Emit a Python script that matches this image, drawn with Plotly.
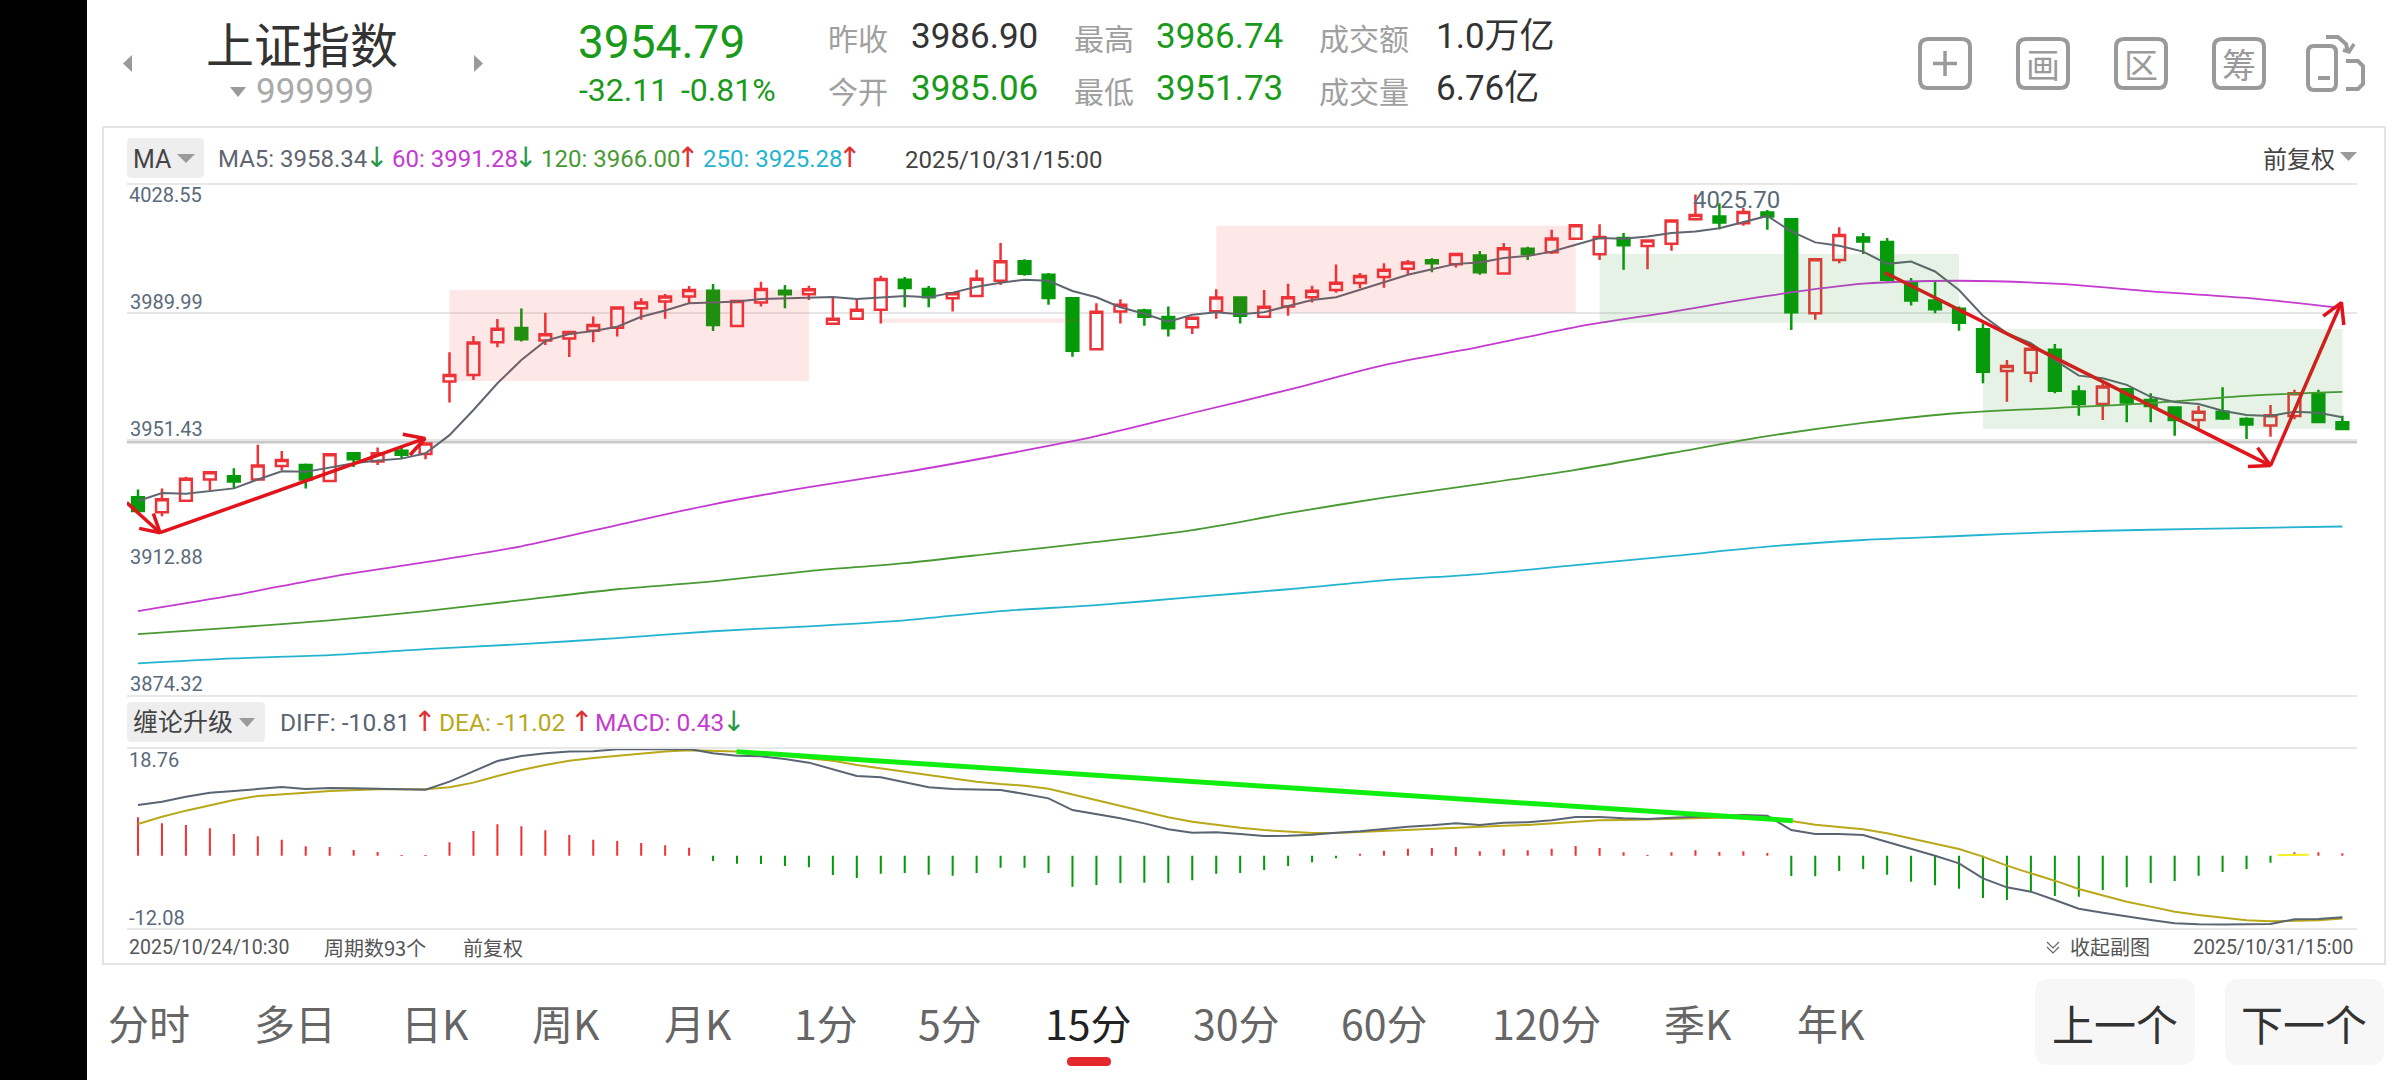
import plotly.graph_objects as go

W, H = 2400, 1080
bar_index = list(range(93))

open_ = [3934.1,3929.6,3933.1,3939.5,3940.5,3939.5,3943.6,3943.9,3939.0,3947.4,
3944.9,3948.2,3947.2,3969.1,3971.1,3981.0,3985.3,3981.5,3982.1,3984.5,
3985.4,3991.3,3993.3,3994.8,3996.6,3985.9,3993.0,3996.6,3995.5,3986.6,
3988.1,3990.8,3999.9,3997.1,3994.3,3995.0,3999.6,4005.5,4001.4,3994.3,
3978.9,3990.3,3990.6,3988.6,3985.5,3990.4,3994.5,3988.7,3991.8,3994.6,
3996.8,3998.9,4000.7,4003.2,4005.8,4004.6,4007.2,4001.8,4009.3,4008.2,
4012.3,4007.6,4012.5,4010.1,4010.8,4018.2,4019.0,4017.0,4020.2,4018.2,
3989.8,4005.9,4012.7,4011.3,3999.0,3993.6,3991.1,3984.9,3972.3,3971.8,
3978.7,3966.1,3962.3,3966.8,3963.5,3961.3,3957.5,3960.0,3957.8,3955.8,
3958.7,3965.4,3956.8]
close = [3930.0,3933.5,3939.7,3941.7,3938.9,3943.7,3945.4,3939.5,3947.1,3945.6,
3947.4,3947.0,3950.4,3971.1,3980.9,3985.1,3981.9,3983.4,3984.1,3986.2,
3991.5,3993.0,3994.8,3996.8,3986.2,3993.5,3997.1,3995.5,3997.0,3988.1,
3990.8,4000.1,3997.4,3994.6,3995.8,4000.2,4005.5,4001.7,3994.4,3978.4,
3990.2,3992.3,3988.7,3985.2,3988.4,3994.5,3989.0,3991.7,3994.6,3996.6,
3999.0,4001.0,4002.9,4005.1,4004.9,4007.7,4002.2,4009.4,4007.7,4012.4,
4016.4,4012.8,4010.3,4011.8,4017.8,4019.5,4017.2,4020.4,4019.0,3990.1,
4006.1,4013.4,4011.5,3999.9,3993.6,3991.0,3986.9,3972.1,3973.8,3979.0,
3966.3,3962.3,3967.6,3962.8,3961.7,3957.5,3960.0,3957.9,3956.1,3958.9,
3965.6,3956.9,3954.79]
high = [3936.5,3936.8,3940.3,3941.7,3942.9,3950.0,3948.1,3944.3,3947.5,3947.8,
3949.2,3949.1,3950.6,3978.0,3982.9,3988.0,3991.2,3989.9,3984.1,3988.8,
3991.5,3994.3,3995.6,3998.0,3998.6,3993.5,3999.3,3998.3,3998.1,3994.6,
3993.8,4001.1,4000.7,3998.0,3995.8,4002.9,4011.0,4006.1,4001.9,3994.6,
3992.8,3994.0,3991.1,3991.8,3988.4,3997.0,3994.9,3996.8,3998.7,3998.1,
4004.5,4001.9,4004.9,4005.9,4006.4,4007.7,4008.6,4011.0,4009.9,4015.0,
4016.4,4016.7,4014.0,4011.8,4017.8,4025.7,4023.0,4021.6,4021.0,4018.5,
4006.1,4015.8,4014.0,4012.5,4000.4,3999.4,3991.8,3986.7,3975.6,3979.0,
3980.5,3967.9,3968.6,3967.1,3965.6,3961.5,3961.8,3967.4,3958.3,3962.0,
3966.6,3966.6,3958.8]
low = [3930.0,3928.4,3933.1,3936.3,3936.8,3939.5,3942.3,3936.8,3939.0,3943.3,
3943.9,3945.9,3945.6,3962.8,3969.6,3979.5,3981.2,3980.2,3976.5,3981.0,
3982.7,3987.8,3988.1,3992.6,3984.4,3985.9,3991.8,3991.3,3993.8,3986.6,
3988.1,3986.7,3991.6,3991.6,3990.3,3995.0,3998.3,4001.1,3992.3,3976.6,
3978.9,3986.7,3986.0,3982.7,3983.5,3988.1,3986.7,3988.7,3989.0,3993.0,
3996.0,3997.3,3997.5,4001.6,4002.2,4003.6,4001.4,4001.6,4005.9,4007.7,
4012.3,4005.9,4002.9,4003.1,4008.7,4018.2,4015.2,4016.2,4015.0,3984.7,
3987.8,4004.9,4007.7,3999.4,3992.1,3989.8,3984.5,3968.6,3963.0,3968.9,
3965.6,3958.8,3957.5,3956.8,3956.8,3952.7,3955.0,3957.5,3951.73,3952.4,
3957.7,3956.5,3954.4]

ma5 = [3933.0,3935.4,3935.2,3936.1,3936.8,3939.5,3942.0,3941.8,3943.0,3944.4,
3945.2,3945.8,3947.4,3952.9,3960.5,3968.6,3975.6,3981.4,3983.5,3984.4,
3985.7,3988.7,3990.6,3992.8,3993.0,3993.3,3994.1,3994.3,3994.5,3994.7,
3994.1,3994.6,3995.0,3994.6,3996.0,3997.8,3999.0,3999.9,3999.6,3996.5,
3994.6,3991.6,3989.6,3987.2,3989.3,3990.1,3989.5,3990.1,3992.0,3993.8,
3994.6,3996.8,3999.0,4001.4,4003.1,4004.7,4005.1,4006.5,4007.1,4008.4,
4010.5,4012.5,4012.3,4013.0,4014.0,4014.5,4015.5,4017.3,4019.2,4014.5,
4011.2,4010.2,4008.4,4004.7,4005.4,4002.4,3996.8,3989.0,3983.7,3980.7,
3975.6,3970.9,3970.1,3968.1,3964.5,3962.9,3962.3,3960.3,3959.0,3958.7,
3960.0,3959.7,3958.34]

ma_index = [0,4,8,12,16,20,24,28,32,36,40,44,48,52,56,60,64,68,72,76,80,84,88,92]
ma60 = [3899.7,3904.5,3910.0,3914.5,3919.3,3925.7,3932.0,3937.2,3941.7,3946.9,3952.6,3959.6,
3966.6,3974.1,3979.6,3985.6,3990.2,3995.0,3998.7,3999.6,3998.7,3996.4,3994.4,3991.28]
ma120 = [3892.7,3894.7,3896.9,3899.7,3903.0,3906.3,3908.7,3911.8,3914.2,3917.4,3920.6,3924.2,
3929.3,3934.0,3938.1,3942.4,3947.5,3952.6,3956.6,3959.6,3961.1,3962.6,3964.8,3966.00]
ma250 = [3883.9,3885.4,3886.4,3888.2,3889.7,3891.5,3893.6,3895.1,3896.9,3899.7,3901.5,3903.9,
3906.3,3909.0,3910.9,3913.6,3916.3,3919.2,3921.2,3922.4,3923.6,3924.3,3924.8,3925.28]

macd = [6.76,5.70,5.41,4.82,3.83,3.42,2.83,1.66,1.55,1.02,0.67,0.05,0.05,2.37,4.36,5.53,5.18,4.47,3.65,2.83,
2.60,2.25,1.84,1.43,-0.91,-1.38,-1.44,-1.79,-2.03,-3.37,-3.90,-3.14,-3.02,-3.31,-3.49,-3.02,-2.08,-2.08,-3.02,-5.42,
-5.13,-4.78,-4.72,-4.78,-4.31,-3.14,-3.02,-2.49,-1.79,-1.15,-0.44,0.37,0.90,1.25,1.37,1.55,0.78,1.14,0.96,1.25,
1.72,1.37,0.61,0.03,0.61,0.96,0.67,0.78,0.49,-3.55,-3.61,-2.67,-2.32,-3.31,-4.54,-5.19,-5.77,-7.41,-7.76,-6.42,
-7.06,-7.18,-6.01,-5.54,-4.78,-4.43,-3.49,-2.85,-2.32,-1.21,0.61,0.61,0.43]
diff = [8.92,9.51,10.38,11.09,11.37,11.79,12.08,11.73,11.91,11.85,11.79,11.67,11.62,13.02,14.78,16.65,17.53,18.0,18.30,18.35,
18.70,18.76,18.76,18.76,18.0,17.59,17.47,17.0,16.36,15.19,14.02,13.78,12.85,12.03,11.73,11.62,11.56,10.86,10.09,8.04,
7.34,6.58,5.70,4.65,4.06,4.12,3.83,3.48,3.54,3.71,4.06,4.30,4.71,5.12,5.35,5.70,5.41,5.82,5.88,6.23,
6.82,6.82,6.58,6.46,6.70,6.82,6.99,7.17,7.05,4.53,3.83,3.83,3.65,2.48,1.19,0.02,-1.32,-3.96,-5.54,-6.30,
-7.76,-9.29,-9.99,-10.69,-11.28,-11.86,-12.04,-12.08,-12.08,-11.98,-11.16,-11.10,-10.81]
dea = [5.59,6.87,7.93,8.92,9.80,10.50,10.86,11.09,11.37,11.56,11.67,11.67,11.67,12.03,12.85,14.02,15.07,15.95,16.71,17.18,
17.59,18.0,18.30,18.53,18.41,18.30,18.0,17.59,17.12,16.71,15.95,15.36,14.78,14.19,13.61,13.02,12.61,12.32,11.79,10.80,
9.80,8.81,7.75,6.76,6.0,5.41,4.94,4.53,4.24,4.0,4.0,4.18,4.36,4.53,4.77,5.0,5.12,5.29,5.41,5.70,
6.0,6.23,6.29,6.35,6.46,6.58,6.70,6.76,6.76,6.11,5.47,5.06,4.65,3.95,3.07,2.19,1.19,-0.15,-1.73,-3.08,
-4.37,-5.83,-7.0,-8.06,-8.93,-9.81,-10.40,-10.93,-11.33,-11.51,-11.39,-11.34,-11.02]

arrow_x = [-0.47,0.92,None,0.05,0.92,0.64,None,0.92,11.98,None,11.05,11.98,11.35,None,
           72.9,89.0,None,88.06,89.0,88.46,None,89.0,91.96,None,91.2,91.96,92.06]
arrow_y = [3932.5,3923.4,None,3924.7,3923.4,3929.2,None,3923.4,3951.9,None,3953.2,3951.9,3946.9,None,
           4002.1,3943.7,None,3943.4,3943.7,3949.1,None,3943.7,3993.0,None,3988.9,3993.0,3986.2]
pink_zones = [(13,28,3969.3,3996.8),(31,39.2,3986.9,3988.2),(45,60,3990.0,4016.2)]
green_zones = [(61,76,3986.9,4007.7),(77,92,3954.8,3985.0)]
level_line = 3951.0
trend_x, trend_y = [24.98,69.06], [18.29,6.17]
blip_x, blip_y = [89.3,90.6], [0.1,0.2]

grid_levels = [3989.99,3951.43]
main_ticks = [3989.99,3951.43,3912.88,3874.32]
main_labels = ["3989.99","3951.43","3912.88","3874.32"]

RED, GREEN = "#ee3338", "#049a0a"
NUM = "Roboto, 'Noto Sans CJK SC'"
CJK = "'Noto Sans CJK SC', Roboto"

fx = lambda p: p / W
fy = lambda p: 1 - p / H
L, R, T1, B1, T2, B2 = 127, 2357, 185, 695, 749, 927.7

fig = go.Figure()
fig.add_trace(go.Candlestick(x=bar_index, open=open_, high=high, low=low, close=close, whiskerwidth=0,
    increasing=dict(line=dict(color=RED, width=2.5), fillcolor="white"),
    decreasing=dict(line=dict(color=GREEN, width=2.5), fillcolor=GREEN), xaxis="x", yaxis="y"))
def line(x, y, color, width, xa="x", ya="y", shape="linear"):
    fig.add_trace(go.Scatter(x=x, y=y, mode="lines", line=dict(color=color, width=width, shape=shape, smoothing=0.8), xaxis=xa, yaxis=ya))
line(ma_index, ma250, "#25b4cf", 1.8, shape="spline")
line(ma_index, ma120, "#4a9a34", 1.8, shape="spline")
line(ma_index, ma60, "#c43bd0", 1.8, shape="spline")
line(bar_index, ma5, "#5f6670", 2)
fig.add_trace(go.Scatter(x=arrow_x, y=arrow_y, mode="lines", line=dict(color="#e3131b", width=3.5), connectgaps=False))
fig.add_trace(go.Bar(x=bar_index, y=macd, width=0.085, marker=dict(color=[RED if v >= 0 else GREEN for v in macd], line=dict(width=0)), xaxis="x2", yaxis="y2"))
line(bar_index, dea, "#b8a81a", 2, "x2", "y2")
line(bar_index, diff, "#5a6472", 2, "x2", "y2")
line(trend_x, trend_y, "#10ee10", 5, "x2", "y2")
line(blip_x, blip_y, "#f5ee20", 2, "x2", "y2")

shapes = []
def rect(x0, y0, x1, y1, fill=None, lc=None, lw=0, layer="below"):
    shapes.append(dict(type="rect", xref="paper", yref="paper", x0=fx(x0), x1=fx(x1), y0=fy(y0), y1=fy(y1),
                       fillcolor=fill or "rgba(0,0,0,0)", line=dict(color=lc or "rgba(0,0,0,0)", width=lw), layer=layer))
def path(points, fill=None, lc=None, lw=0, close_path=True):
    d = "M" + " L".join(f"{fx(x):.5f},{fy(y):.5f}" for x, y in points) + (" Z" if close_path else "")
    shapes.append(dict(type="path", xref="paper", yref="paper", path=d, fillcolor=fill or "rgba(0,0,0,0)",
                       line=dict(color=lc or "rgba(0,0,0,0)", width=lw), layer="above"))
def rrect(x0, y0, x1, y1, r, fill=None, lc=None, lw=0):
    P = lambda x, y: f"{fx(x):.5f},{fy(y):.5f}"
    d = (f"M{P(x0+r,y0)} L{P(x1-r,y0)} Q{P(x1,y0)} {P(x1,y0+r)} L{P(x1,y1-r)} Q{P(x1,y1)} {P(x1-r,y1)} "
         f"L{P(x0+r,y1)} Q{P(x0,y1)} {P(x0,y1-r)} L{P(x0,y0+r)} Q{P(x0,y0)} {P(x0+r,y0)} Z")
    shapes.append(dict(type="path", xref="paper", yref="paper", path=d, fillcolor=fill or "rgba(0,0,0,0)",
                       line=dict(color=lc or "rgba(0,0,0,0)", width=lw), layer="below"))

rect(0, 0, 87, H, fill="#000000")
rect(103, 127, 2385, 964, lc="#e4e4e4", lw=2)
rrect(127, 138, 204, 178, 5, fill="#eeeeee")
rrect(127, 702, 265, 742, 5, fill="#eeeeee")
rrect(2035, 979, 2195, 1065, 14, fill="#f7f7f7")
rrect(2225, 979, 2384, 1065, 14, fill="#f7f7f7")
rrect(1067, 1057, 1111, 1066, 4.5, fill="#e3282e")
for x0 in (1920, 2018, 2116, 2214):
    rrect(x0, 39, x0 + 50, 88, 8, lc="#9a9a9a", lw=4)
rrect(2308, 46, 2336, 90, 6, lc="#9a9a9a", lw=4)
path([(2318, 78), (2330, 78)], lc="#9a9a9a", lw=4, close_path=False)
path([(1933, 63.5), (1957, 63.5)], lc="#9a9a9a", lw=3.5, close_path=False)
path([(1945, 51), (1945, 76)], lc="#9a9a9a", lw=3.5, close_path=False)
path([(2326, 37), (2338, 37), (2346, 44), (2348, 52)], lc="#9a9a9a", lw=4, close_path=False)
path([(2343, 50), (2349, 52), (2354, 44)], lc="#9a9a9a", lw=3.5, close_path=False)
path([(2346, 61), (2358, 61), (2363, 66), (2363, 84), (2358, 89), (2346, 89)], lc="#9a9a9a", lw=4, close_path=False)
for tri in ([(123, 63.5), (132, 55), (132, 72)], [(483, 63.5), (474, 55), (474, 72)],
            [(230, 87), (246, 87), (238, 97)], [(177, 154), (195, 154), (186, 163)],
            [(239, 718), (255, 718), (247, 727)], [(2340, 152), (2357, 152), (2348.5, 161)]):
    path(tri, fill="#9a9a9a")
path([(2047, 942), (2053, 948), (2059, 942)], lc="#666666", lw=1.2, close_path=False)
path([(2047, 947), (2053, 953), (2059, 947)], lc="#666666", lw=1.2, close_path=False)

for x0, x1, y0, y1 in pink_zones:
    shapes.append(dict(type="rect", xref="x", yref="y", x0=x0, x1=x1, y0=y0, y1=y1,
                       fillcolor="rgba(240,60,60,0.12)", line=dict(width=0), layer="above"))
for x0, x1, y0, y1 in green_zones:
    shapes.append(dict(type="rect", xref="x", yref="y", x0=x0, x1=x1, y0=y0, y1=y1,
                       fillcolor="rgba(40,150,40,0.12)", line=dict(width=0), layer="above"))
shapes.append(dict(type="line", xref="paper", yref="y", x0=fx(L), x1=fx(R), y0=level_line, y1=level_line,
                   line=dict(color="#c8c8c8", width=4), layer="below"))

anns = []
def t(x, y, s, size, color, anchor="left", font=NUM):
    anns.append(dict(xref="paper", yref="paper", x=fx(x), y=fy(y), text=s, showarrow=False, xanchor=anchor,
                     yanchor="middle", font=dict(size=size, color=color, family=font), borderpad=0, borderwidth=0))

t(302, 42, "上证指数", 48, "#333333", "center", CJK)
t(256, 92, "999999", 35, "#aaaaaa")
t(578, 42, "3954.79", 46, "#1a9a1a")
t(579, 90, "-32.11", 32, "#1a9a1a")
t(681, 90, "-0.81%", 32, "#1a9a1a")
GREY, DARK, G2 = "#a0a0a0", "#333333", "#1a9a1a"
for x, y, s in [(828, 37, "昨收"), (828, 90, "今开"), (1074, 37, "最高"), (1074, 90, "最低"), (1319, 37, "成交额"), (1319, 90, "成交量")]:
    t(x, y, s, 30, GREY, font=CJK)
t(911, 37, "3986.90", 35, DARK); t(911, 89, "3985.06", 35, G2)
t(1156, 37, "3986.74", 35, G2); t(1156, 89, "3951.73", 35, G2)
t(1436, 37, "1.0万亿", 35, DARK); t(1436, 89, "6.76亿", 35, DARK)
for x, s in [(2043, "画"), (2141, "区"), (2239, "筹")]:
    t(x, 63.5, s, 34, "#9a9a9a", "center", CJK)

ARROW = "DejaVu Sans"
t(133, 159, "MA", 25, "#444444")
t(218, 159, "MA5: 3958.34", 24, "#5f6670"); t(365, 158, "↓", 28, "#2a9a4a", font=ARROW)
t(392, 159, "60: 3991.28", 24, "#c43bd0"); t(514, 158, "↓", 28, "#2a9a4a", font=ARROW)
t(541, 159, "120: 3966.00", 24, "#4a9a34"); t(676, 158, "↑", 28, "#e03030", font=ARROW)
t(703, 159, "250: 3925.28", 24, "#25b4cf"); t(838, 158, "↑", 28, "#e03030", font=ARROW)
t(905, 160, "2025/10/31/15:00", 24, "#444444")
t(2263, 158, "前复权", 24, "#444444", font=CJK)
t(129, 195, "4028.55", 20, "#5a6a7a")
t(1693, 200, "4025.70", 24, "#5a6a7a")
t(133, 720, "缠论升级", 25, "#444444", font=CJK)
t(280, 722, "DIFF: -10.81", 24.5, "#5a6472"); t(413, 721, "↑", 28, "#e03030", font=ARROW)
t(439, 722, "DEA: -11.02", 24.5, "#b8a81a"); t(570, 721, "↑", 28, "#e03030", font=ARROW)
t(595, 722, "MACD: 0.43", 24.5, "#c43bd0"); t(722, 721, "↓", 28, "#2a9a4a", font=ARROW)
t(129, 760, "18.76", 20, "#5a6a7a"); t(129, 918, "-12.08", 20, "#5a6a7a")
t(129, 947, "2025/10/24/10:30", 19.5, "#555555")
t(324, 947, "周期数93个", 20, "#555555", font=CJK)
t(463, 947, "前复权", 20, "#555555", font=CJK)
t(2070, 946, "收起副图", 20, "#555555", font=CJK)
t(2193, 947, "2025/10/31/15:00", 19.5, "#555555")

for v, s in zip(main_ticks, main_labels):
    anns.append(dict(xref="paper", yref="y", x=fx(129), y=v, yshift=10.7, text=s, showarrow=False, xanchor="left",
                     yanchor="middle", font=dict(size=20, color="#5a6a7a", family=NUM), borderpad=0))

tabs = [(149, "分时"), (295, "多日"), (435, "日K"), (566, "周K"), (698, "月K"), (826, "1分"), (950, "5分"), (1088, "15分"),
        (1236, "30分"), (1385, "60分"), (1546, "120分"), (1698, "季K"), (1831, "年K")]
for x, s in tabs:
    t(x, 1022, s, 41, "#222222" if s == "15分" else "#666666", "center", CJK)
t(2115, 1022, "上一个", 42, "#333333", "center", CJK)
t(2304, 1022, "下一个", 42, "#333333", "center", CJK)

xa = dict(range=[-0.459, 92.61], showticklabels=False, ticks="", showgrid=False, zeroline=False, fixedrange=True,
          showline=True, mirror=True, linecolor="#e8e8e8", linewidth=2, rangeslider=dict(visible=False))
fig.update_layout(
    width=W, height=H, margin=dict(l=0, r=0, t=0, b=0), paper_bgcolor="white", plot_bgcolor="rgba(0,0,0,0)",
    showlegend=False, boxgap=0.3, dragmode=False, font=dict(family=NUM),
    xaxis=dict(xa, domain=[fx(L), fx(R)], anchor="y"),
    xaxis2=dict(xa, domain=[fx(L), fx(R)], anchor="y2"),
    yaxis=dict(domain=[fy(B1), fy(T1)], range=[3874.32, 4028.55], anchor="x", tickvals=grid_levels,
               showticklabels=False, ticks="", gridcolor="#e6e6e6", gridwidth=1.5, zeroline=False, showline=False, fixedrange=True),
    yaxis2=dict(domain=[fy(B2), fy(T2)], range=[-12.63, 18.76], anchor="x2", showticklabels=False, ticks="", showgrid=False,
                zeroline=False, showline=False, fixedrange=True),
    shapes=shapes, annotations=anns, hovermode=False)

fig.write_html("out.html", config=dict(displayModeBar=False),
               post_script="document.body.style.margin='0';document.documentElement.style.overflow='hidden';")
